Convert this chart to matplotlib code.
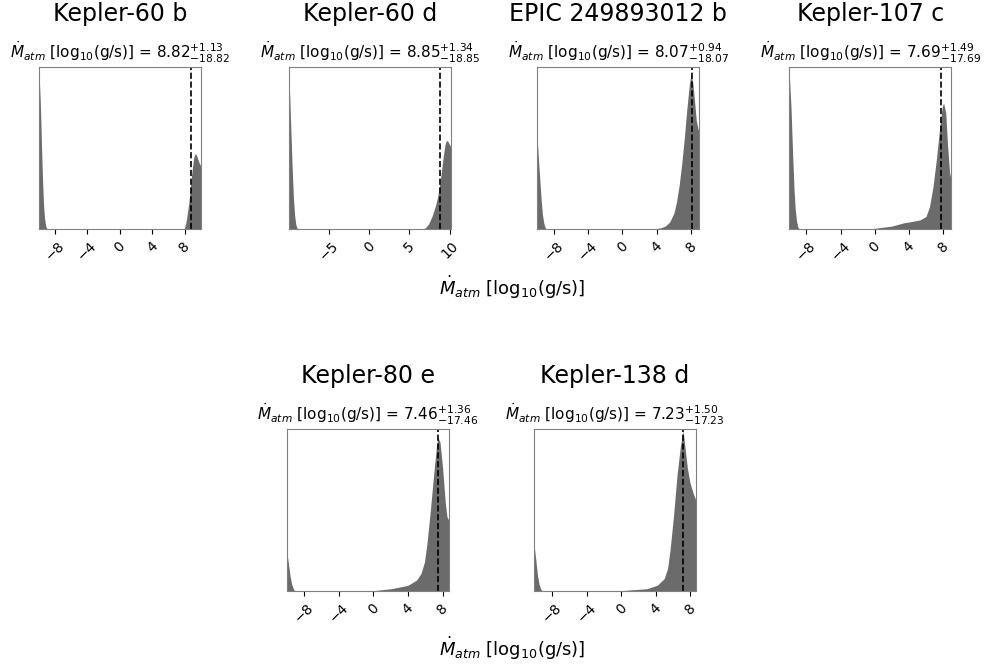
import numpy as np
import matplotlib.pyplot as plt

# planet names, medians and errors for the atmospheric escape rate
names = ['Kepler-60 b', 'Kepler-60 d', 'EPIC 249893012 b', 'Kepler-107 c',
         'Kepler-80 e', 'Kepler-138 d']
med = [8.82, 8.85, 8.07, 7.69, 7.46, 7.23]
err_hi = [1.13, 1.34, 0.94, 1.49, 1.36, 1.50]
err_lo = [18.82, 18.85, 18.07, 17.69, 17.46, 17.23]
xlims = [(-10.0, 9.97), (-9.98, 10.12), (-9.9, 8.95), (-10.0, 8.95),
         (-10.0, 8.7), (-10.1, 8.7)]

# posterior density (normalised to panel height)
x1 = [-10.0, -9.9, -9.8, -9.7, -9.6, -9.5, -9.4, -9.3, -9.2, -9.1, -9.0, -8.85,
      7.9, 8.1, 8.27, 8.5, 8.68, 8.9, 9.1, 9.3, 9.5, 9.7, 9.97]
d1 = [0.97, 0.9, 0.78, 0.6, 0.42, 0.27, 0.15, 0.08, 0.04, 0.015, 0.005, 0.0,
      0.0, 0.03, 0.08, 0.16, 0.25, 0.36, 0.44, 0.47, 0.45, 0.42, 0.39]

x2 = [-9.98, -9.85, -9.7, -9.55, -9.4, -9.25, -9.1, -8.95, -8.8,
      6.6, 7.0, 7.4, 7.8, 8.2, 8.5, 8.8, 9.0, 9.2, 9.4, 9.6, 9.8, 10.0, 10.12]
d2 = [0.96, 0.82, 0.6, 0.38, 0.2, 0.09, 0.03, 0.008, 0.0,
      0.0, 0.01, 0.035, 0.08, 0.14, 0.2, 0.29, 0.37, 0.45, 0.52, 0.55, 0.54, 0.52, 0.51]

x3 = [-9.9, -9.75, -9.6, -9.45, -9.3, -9.15, -9.0, -8.85,
      3.5, 4.5, 5.0, 5.5, 6.0, 6.3, 6.6, 6.9, 7.2, 7.5, 7.8, 8.0, 8.2, 8.4, 8.6, 8.8, 8.95]
d3 = [0.55, 0.42, 0.3, 0.18, 0.09, 0.04, 0.012, 0.0,
      0.0, 0.01, 0.02, 0.045, 0.1, 0.17, 0.27, 0.4, 0.56, 0.74, 0.9, 0.96, 0.9, 0.79, 0.67, 0.62, 0.6]

x4 = [-10.0, -9.8, -9.6, -9.45, -9.3, -9.15, -9.0, -8.85,
      -2.1, 0.0, 2.0, 3.4, 4.0, 5.3, 6.0, 6.4, 6.8, 7.2, 7.6, 7.9, 8.05, 8.3, 8.5, 8.75, 8.95]
d4 = [0.96, 0.75, 0.45, 0.25, 0.12, 0.05, 0.015, 0.0,
      0.0, 0.006, 0.02, 0.04, 0.045, 0.058, 0.08, 0.14, 0.26, 0.43, 0.63, 0.76, 0.78, 0.72, 0.53, 0.35, 0.3]

x5 = [-10.0, -9.8, -9.6, -9.4, -9.2, -9.0,
      -3.0, 0.0, 2.08, 4.0, 5.0, 5.5, 5.9, 6.2, 6.6, 7.0, 7.3, 7.46, 7.7, 8.0, 8.3, 8.5, 8.7]
d5 = [0.25, 0.17, 0.09, 0.04, 0.012, 0.0,
      0.0, 0.004, 0.016, 0.037, 0.07, 0.11, 0.18, 0.3, 0.51, 0.74, 0.9, 0.95, 0.92, 0.76, 0.55, 0.46, 0.44]

x6 = [-10.1, -9.9, -9.7, -9.5, -9.3, -9.1,
      -2.0, 0.0, 3.0, 4.2, 5.0, 5.4, 5.7, 6.1, 6.5, 6.9, 7.2, 7.4, 7.7, 8.0, 8.4, 8.7]
d6 = [0.29, 0.2, 0.1, 0.04, 0.012, 0.0,
      0.0, 0.004, 0.016, 0.037, 0.078, 0.14, 0.26, 0.47, 0.72, 0.9, 0.99, 0.9, 0.76, 0.67, 0.6, 0.56]

xs = [x1, x2, x3, x4, x5, x6]
ds = [d1, d2, d3, d4, d5, d6]

fig = plt.figure(figsize=(9.87, 6.64), dpi=100)

W, H = 162 / 987, 162 / 664
positions = [(38.7, 229.3), (288.7, 229.3), (537.3, 229.3), (789.3, 229.3),
             (286.7, 591.3), (534.0, 591.3)]

for i in range(6):
    left = positions[i][0] / 987
    bottom = 1 - positions[i][1] / 664
    ax = fig.add_axes([left, bottom, W, H])
    ax.fill_between(xs[i], ds[i], 0, color='#6b6b6b', lw=0)
    ax.axvline(med[i], color='k', ls='--', lw=1.2)
    ax.set_xlim(xlims[i])
    ax.set_ylim(0, 1.0)
    ax.set_yticks([])
    ax.xaxis.set_major_locator(plt.MaxNLocator(5))
    ax.tick_params(axis='x', labelsize=10, rotation=45)
    for s in ax.spines.values():
        s.set_color('gray')
    ax.set_title(r'$\dot{M}_{atm}$ [log$_{10}$(g/s)] = $%.2f^{+%.2f}_{-%.2f}$'
                 % (med[i], err_hi[i], err_lo[i]), fontsize=11, pad=6)
    ax.text(0.5, 1.0 + 53 / 162, names[i], transform=ax.transAxes,
            ha='center', va='center', fontsize=17)

fig.text(0.519, 1 - 287 / 664, r'$\dot{M}_{atm}$ [log$_{10}$(g/s)]',
         ha='center', va='center', fontsize=13)
fig.text(0.519, 1 - 648 / 664, r'$\dot{M}_{atm}$ [log$_{10}$(g/s)]',
         ha='center', va='center', fontsize=13)

plt.savefig('out.png', dpi=100)
